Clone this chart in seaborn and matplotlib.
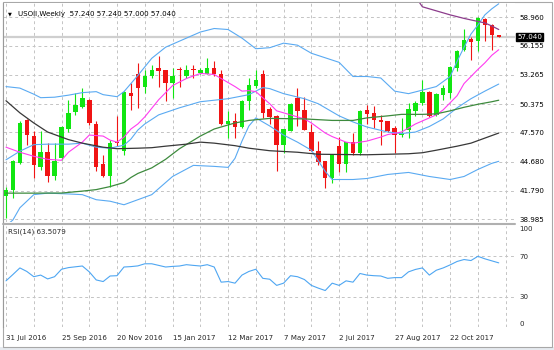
import numpy as np
import pandas as pd
import matplotlib
matplotlib.use("Agg")
import matplotlib.pyplot as plt
import matplotlib.patches as mpatches
import seaborn as sns

# ---- weekly USOil candles (week 0 = 31 Jul 2016) ----
opens = [41.3, 41.9, 44.5, 48.8, 47.25, 44.1, 45.6, 43.2, 45.0, 47.9,
         49.6, 50.1, 50.8, 48.35, 44.4, 43.2, 46.65, 45.7, 51.5, 53.3,
         52.1, 53.1, 53.95, 53.7, 52.45, 53.85, 53.1, 53.85, 53.45, 53.35,
         53.95, 53.35, 48.35, 48.65, 48.05, 50.65, 52.2, 53.3, 49.85, 49.15,
         46.35, 47.75, 50.95, 49.8, 47.65, 45.7, 44.7, 43.05, 46.2, 44.4,
         46.6, 45.5, 49.75, 49.45, 48.75, 48.65, 48.0, 47.35, 47.8, 49.65,
         50.45, 51.6, 49.3, 51.25, 51.45, 53.95, 55.75, 56.8, 56.65, 58.8,
         58.2, 57.24]
highs = [42.2, 44.8, 48.7, 48.9, 47.7, 47.7, 46.5, 46.5, 48.2, 50.8,
         51.45, 51.95, 50.9, 48.65, 45.35, 46.8, 49.15, 51.7, 52.45, 54.45,
         53.75, 54.25, 55.1, 53.75, 53.95, 54.0, 54.25, 54.25, 53.95, 54.95,
         54.6, 53.75, 49.65, 49.5, 50.75, 52.95, 53.75, 53.75, 50.1, 49.3,
         47.95, 50.45, 51.95, 51.1, 48.35, 46.7, 44.75, 45.4, 47.15, 46.65,
         47.5, 49.8, 50.3, 50.15, 49.3, 48.7, 48.15, 49.0, 50.45, 50.7,
         52.8, 51.65, 51.45, 52.3, 54.1, 55.75, 57.85, 57.0, 58.95, 58.9,
         58.3, 57.24]
lows = [39.1, 41.1, 44.4, 46.35, 43.0, 43.8, 42.7, 42.9, 44.85, 47.65,
        49.3, 50.0, 48.3, 43.7, 43.1, 42.2, 46.2, 45.35, 49.8, 50.0,
        51.45, 52.95, 52.1, 50.65, 50.95, 52.1, 52.95, 52.95, 53.3, 53.3,
        53.1, 48.3, 47.0, 47.0, 48.0, 49.8, 51.95, 49.0, 48.35, 43.7,
        45.5, 47.7, 48.15, 47.8, 45.7, 44.35, 42.05, 42.55, 43.65, 43.65,
        45.35, 45.35, 48.35, 48.0, 46.35, 47.6, 45.5, 47.15, 47.0, 49.15,
        50.3, 49.05, 49.2, 50.8, 51.0, 53.6, 55.65, 54.75, 55.6, 56.65,
        55.75, 57.0]
closes = [41.9, 44.7, 48.5, 47.3, 44.3, 45.6, 43.2, 44.7, 48.1, 49.5,
          50.3, 50.95, 48.5, 44.1, 43.2, 46.5, 46.55, 51.6, 51.2, 52.0,
          53.1, 53.75, 53.6, 52.45, 53.1, 53.7, 53.7, 53.75, 53.7, 53.95,
          53.3, 48.35, 48.65, 48.05, 50.7, 52.3, 52.8, 49.5, 49.1, 46.35,
          47.9, 50.35, 49.7, 47.85, 45.75, 44.65, 43.05, 45.35, 44.4, 46.6,
          45.5, 49.65, 49.4, 48.75, 48.6, 47.75, 47.3, 47.5, 49.9, 50.45,
          51.6, 49.15, 51.35, 51.95, 54.0, 55.6, 56.75, 56.5, 58.9, 58.15,
          57.2, 57.04]

# ---- overlays ----
upper_wk = [0, 2, 4, 5, 7, 9, 11, 13, 14, 16, 17, 19, 21, 23, 26, 28, 30, 32, 34, 36,
            38, 40, 42, 44, 48, 50, 52, 54, 56, 58, 60, 62, 64, 65, 66, 67, 68, 69, 70, 71]
upper_val = [52.1, 51.95, 51.35, 51.0, 51.05, 51.25, 51.5, 51.6, 51.3, 51.1, 51.6, 53.2, 54.9, 56.0,
             56.9, 57.5, 57.85, 57.75, 56.9, 55.85, 55.95, 56.4, 56.2, 55.4, 54.5, 53.1, 53.1,
             52.95, 51.65, 51.4, 51.75, 52.1, 53.1, 54.6, 56.0, 57.3, 58.2, 59.2, 59.8, 60.3]

mid_wk = [0, 2, 4, 6, 9, 11, 13, 15, 17, 18, 19, 20, 22, 25, 28, 32, 35, 37, 38, 40,
          43, 45, 48, 50, 52, 55, 57, 59, 61, 63, 65, 67, 69, 71]
mid_val = [44.85, 45.7, 46.35, 46.4, 46.4, 46.5, 46.1, 46.0, 46.3, 46.9, 47.8, 48.4, 49.3, 50.0,
           50.6, 50.9, 51.3, 52.0, 51.9, 51.4, 50.9, 50.4, 49.2, 48.6, 48.1, 47.6, 47.45, 47.6,
           48.15, 48.9, 50.0, 50.9, 51.65, 52.35]

lower_wk = [0, 1, 2, 4, 6, 9, 11, 13, 15, 17, 19, 21, 24, 27, 30, 32, 33, 34, 35, 36,
            37, 38, 40, 42, 44, 46, 47, 50, 52, 55, 58, 61, 64, 66, 68, 70, 71]
lower_val = [38.3, 38.9, 40.1, 41.4, 41.55, 41.47, 41.4, 40.9, 40.75, 40.4, 40.9, 41.4, 43.2, 44.3,
             44.2, 44.1, 45.0, 46.7, 48.2, 49.0, 48.6, 48.2, 47.3, 46.6, 45.8, 43.7, 42.9, 42.9,
             43.0, 43.4, 43.6, 43.2, 42.9, 43.2, 43.9, 44.5, 44.7]

pink_wk = [0, 2, 4, 6, 8, 9, 11, 12, 14, 15, 16, 17, 18, 19, 20, 22, 24, 26, 28, 30,
           31, 33, 34, 35, 36, 37, 38, 39, 41, 43, 44, 46, 47, 49, 50, 52, 54, 55, 57, 59,
           62, 63, 65, 66, 68, 69, 70, 71]
pink_val = [46.1, 45.6, 45.2, 44.9, 44.8, 45.6, 46.6, 47.3, 47.2, 46.8, 46.6, 47.1, 47.9, 48.4,
            49.1, 50.8, 52.2, 52.9, 53.4, 53.3, 52.9, 52.1, 51.65, 51.7, 51.6, 51.0, 50.4, 49.7,
            49.3, 48.9, 48.5, 47.5, 47.15, 46.6, 46.5, 46.7, 47.1, 47.35, 47.6, 48.4, 49.3, 49.8,
            51.2, 52.4, 53.8, 54.45, 55.2, 55.75]

green_wk = [0, 4, 8, 11, 13, 15, 17, 18, 19, 21, 23, 25, 28, 30, 33, 35, 38, 43, 47, 50,
            52, 55, 57, 60, 62, 64, 66, 68, 70, 71]
green_val = [41.55, 41.55, 41.56, 41.75, 41.9, 42.2, 42.6, 43.1, 43.5, 44.05, 44.9, 45.95, 47.2,
             47.9, 48.5, 48.75, 48.95, 48.9, 48.75, 48.75, 49.0, 49.2, 49.35, 49.35, 49.4, 49.7,
             50.05, 50.35, 50.6, 50.75]

black_wk = [0, 2, 4, 6, 9, 11, 14, 16, 19, 21, 23, 26, 28, 30, 33, 35, 38, 42, 45, 52,
            58, 60, 62, 65, 67, 69, 71]
black_val = [50.7, 49.5, 48.5, 47.6, 46.85, 46.5, 46.1, 45.95, 46.0, 46.05, 46.2, 46.4, 46.6,
             46.5, 46.25, 46.0, 45.75, 45.6, 45.4, 45.35, 45.45, 45.55, 45.8, 46.2, 46.5, 47.0, 47.5]

purple_wk = [59, 60, 62, 64, 66, 68, 69, 70, 71]
purple_val = [61.0, 60.0, 59.6, 59.2, 58.85, 58.55, 58.4, 58.1, 57.75]

rsi = [45.7, 52.0, 58.5, 55.0, 49.8, 51.4, 47.6, 49.8, 57.2, 58.8,
       59.6, 60.4, 54.6, 46.6, 45.0, 50.5, 50.8, 59.4, 59.8, 60.5,
       62.6, 62.6, 61.0, 59.4, 60.0, 60.4, 61.7, 61.0, 60.4, 61.7,
       59.4, 44.4, 45.0, 43.4, 51.4, 55.0, 57.2, 48.2, 47.3, 41.2,
       43.4, 50.8, 49.8, 47.0, 41.2, 38.5, 36.1, 43.4, 41.2, 45.7,
       44.4, 53.0, 51.4, 50.8, 50.5, 48.2, 48.9, 48.9, 54.6, 57.0,
       58.5, 51.4, 56.2, 58.5, 61.5, 64.9, 66.8, 65.8, 70.0, 67.5,
       65.5, 63.5079]

date_weeks = [0, 8, 16, 24, 32, 40, 48, 56, 64]
date_labels = ["31 Jul 2016", "25 Sep 2016", "20 Nov 2016", "15 Jan 2017", "12 Mar 2017",
               "7 May 2017", "2 Jul 2017", "27 Aug 2017", "22 Oct 2017"]
price_ticks = [58.960, 56.155, 53.265, 50.375, 47.570, 44.680, 41.790, 38.985]
rsi_ticks = [100, 70, 30, 0]
last_price = 57.040

GREEN = "#11e611"
RED = "#f01414"
BLUE = "#5aaaf2"
PINK = "#ff3cf0"
MA_GREEN = "#3d8a3d"
MA_BLACK = "#383838"
PURPLE = "#8c3c8c"
GRID = "#c4c4c4"
FS = 5.1

sns.set_theme(style="white")
plt.rcParams["font.family"] = ["DejaVu Sans"]

W, H = 554, 350
fig = plt.figure(figsize=(W / 100, H / 100), dpi=100)
fig.patch.set_facecolor("white")


def rect(x0, y0, x1, y1):
    return [x0 / W, 1 - y1 / H, (x1 - x0) / W, (y1 - y0) / H]


# window frame: light strip under the chart and a thin outline
fig.add_artist(mpatches.Rectangle((0, 0), 1, 3 / H, transform=fig.transFigure,
                                  facecolor="#e6eaef", edgecolor="none", zorder=0))
fig.add_artist(mpatches.Rectangle((2.5 / W, 3 / H), 549.5 / W, 345.5 / H, transform=fig.transFigure,
                                  facecolor="none", edgecolor="#a8a8a8", lw=0.8, zorder=0))

ax = fig.add_axes(rect(3, 3, 515, 222))
axr = fig.add_axes(rect(3, 226, 515, 327))

# week index -> pixel: x = 6 + 6.94 * week
x_lo = (3 - 6) / 6.94
x_hi = (515 - 6) / 6.94

df = pd.DataFrame({"week": np.arange(len(opens)), "open": opens, "high": highs,
                   "low": lows, "close": closes})
up = df["close"] >= df["open"]
colors = np.where(up, GREEN, RED)
body_lo = np.minimum(df["open"], df["close"])
body_h = (df["close"] - df["open"]).abs().clip(lower=0.1)

ax.vlines(df["week"], df["low"], df["high"], colors=colors, lw=0.8, zorder=3)
ax.bar(df["week"], body_h, bottom=body_lo, width=0.64, color=colors, linewidth=0, zorder=3)

ax.axhline(last_price, color="#cfcfcf", lw=1.6, zorder=1)

overlays = [
    (upper_wk, upper_val, BLUE, 0.8),
    (mid_wk, mid_val, BLUE, 0.8),
    (lower_wk, lower_val, BLUE, 0.8),
    (pink_wk, pink_val, PINK, 0.8),
    (green_wk, green_val, MA_GREEN, 0.9),
    (black_wk, black_val, MA_BLACK, 0.9),
    (purple_wk, purple_val, PURPLE, 0.9),
]
for wk, val, col, lw in overlays:
    sns.lineplot(x=wk, y=val, ax=ax, color=col, linewidth=lw, zorder=4, legend=False)

ax.set_xlim(x_lo, x_hi)
ax.set_ylim(58.96 - (222 - 17.3) / 10.1, 58.96 + (17.3 - 3) / 10.1)

grid_weeks = list(range(0, 73, 4))
for a in (ax, axr):
    a.set_xticks(grid_weeks)
    a.grid(True, axis="both", color=GRID, lw=0.7, ls=(0, (3, 3)))
    a.set_xlabel("")
    a.set_ylabel("")
    for s in a.spines.values():
        s.set_visible(False)
    a.spines["left"].set_visible(True)
    a.spines["left"].set_color("#9a9a9a")
    a.spines["left"].set_linewidth(0.8)

ax.set_yticks(price_ticks)
ax.set_yticklabels([f"{v:.3f}" for v in price_ticks])
ax.yaxis.tick_right()
ax.tick_params(axis="y", length=0, pad=3, labelsize=FS, colors="#000000")
ax.tick_params(axis="x", length=0, labelbottom=False)

# RSI panel
sns.lineplot(x=np.arange(len(rsi)), y=rsi, ax=axr, color="#4ea6f2", linewidth=0.8, legend=False)
axr.set_xlim(x_lo, x_hi)
axr.set_ylim(0, 100)
axr.set_yticks(rsi_ticks)
axr.set_yticklabels([str(v) for v in rsi_ticks])
axr.yaxis.tick_right()
axr.tick_params(axis="y", length=0, pad=3, labelsize=FS)
axr.grid(False)
for v in (70, 30):
    axr.axhline(v, color=GRID, lw=0.7, ls=(0, (3, 3)), zorder=0)
for w in grid_weeks:
    axr.axvline(w, color=GRID, lw=0.7, ls=(0, (3, 3)), zorder=0)
for lbl in axr.get_yticklabels():
    if lbl.get_text() == "100":
        lbl.set_va("top")
    elif lbl.get_text() == "0":
        lbl.set_va("bottom")

axr.set_xticklabels([date_labels[date_weeks.index(w)] if w in date_weeks else "" for w in grid_weeks])
axr.tick_params(axis="x", length=0, pad=6, labelsize=FS)
for lbl in axr.get_xticklabels():
    lbl.set_ha("left")

# separator between price and RSI panels
fig.add_artist(plt.Line2D([3 / W, 515 / W], [1 - 224 / H] * 2, color="#b0b0b0", lw=1.5))

# header texts
fig.text(10 / W, 1 - 14 / H, "▼", fontsize=3.6, va="center", ha="center", color="#000000")
fig.text(18 / W, 1 - 14 / H, "USOil,Weekly  57.240 57.240 57.000 57.040", fontsize=FS,
         va="center", ha="left", color="#000000")
fig.text(8 / W, 1 - 232 / H, "RSI(14) 63.5079", fontsize=FS, va="center", ha="left")

# current price marker on the price scale
y_last = 17.3 + (58.96 - last_price) * 10.1
fig.text(517 / W, 1 - y_last / H, f"{last_price:.3f}", fontsize=FS, va="center", ha="left",
         color="white", bbox=dict(boxstyle="square,pad=0.12", fc="black", ec="black"), zorder=10)

fig.savefig("out.png", dpi=100, facecolor=fig.get_facecolor())
